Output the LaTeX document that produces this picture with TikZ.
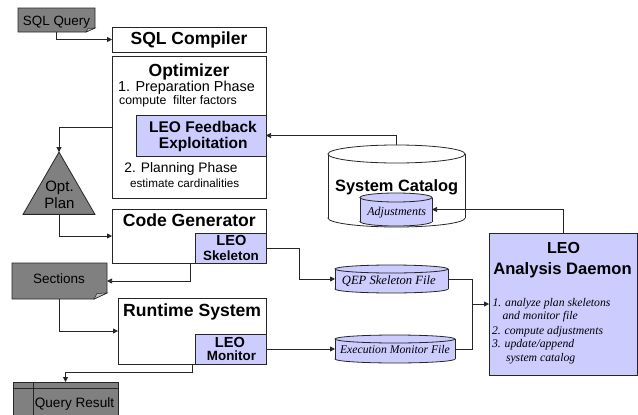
\documentclass[tikz,border=0pt]{standalone}
\usepackage{fontspec}
\setmainfont{Liberation Sans}
\newfontfamily\serifit{Liberation Serif}
\usetikzlibrary{arrows.meta,shapes.geometric}
\definecolor{leo}{RGB}{204,204,255}
\definecolor{dgray}{RGB}{128,128,128}
\definecolor{lgray}{RGB}{190,190,190}
\newcommand\fsz[1]{\fontsize{#1}{#1}\selectfont}
\newcommand\mycyl[6]{%
  \filldraw[cylb, fill=#6] (#1,#3-#5) ellipse [x radius=#4pt, y radius=#5pt];
  \fill[#6] (#1-#4,#2+#5) rectangle (#1+#4,#3-#5);
  \draw[cylb] (#1-#4,#2+#5) -- (#1-#4,#3-#5) (#1+#4,#2+#5) -- (#1+#4,#3-#5);
  \filldraw[cylb, fill=#6] (#1,#2+#5) ellipse [x radius=#4pt, y radius=#5pt];}
\begin{document}
\begin{tikzpicture}[x=1pt,y=-1pt,
  box/.style={draw=black!85, line width=0.9pt, fill=white, inner sep=0pt, outer sep=0pt},
  leobox/.style={box, fill=leo},
  anchorbox/.style={draw=none, inner sep=0pt, outer sep=0pt},
  cylb/.style={draw=black!85, line width=0.8pt},
  conn/.style={draw=black!85, line width=0.75pt},
  arr/.style={conn, -{Triangle[length=5pt,width=5pt]}},
  txt/.style={anchor=base, inner sep=0pt, outer sep=0pt},
  txtl/.style={anchor=base west, inner sep=0pt, outer sep=0pt, font=\serifit\itshape\fsz{11.7}}]
\useasboundingbox (0,0) rectangle (638,415);

% ---- SQL Query (folded document) ----
\filldraw[fill=dgray, draw=black!85, line width=0.8pt]
  (18,8) -- (95,8) -- (95,28) -- (86,32) -- (18,32) -- cycle;
\filldraw[fill=lgray, draw=black!85, line width=0.5pt] (86,32) -- (95,28) -- (88,28.5) -- cycle;
\node[anchorbox, minimum width=77pt, minimum height=24pt] (sqlq) at (56.5,20) {};
\node[txt, font=\fsz{13.4}] (tsqlq) at (56.5,26) {SQL Query};

% ---- SQL Compiler ----
\node[box, minimum width=154pt, minimum height=25pt] (sqlc) at (189,39.5) {};
\node[txt, font=\bfseries\fsz{17.5}] (tsqlc) at (189,45) {SQL Compiler};

% ---- Optimizer ----
\node[box, minimum width=154pt, minimum height=142pt] (opt) at (189,127) {};
\node[txt, font=\bfseries\fsz{17.5}] (topt) at (189,76) {Optimizer};
\node[txt, font=\fsz{14.4}] (tprep) at (186.5,91.6) {1. Preparation Phase};
\node[txt, font=\fsz{12.3}] (tcff) at (178,104.2) {compute\ \ filter factors};
\node[leobox, minimum width=130pt, minimum height=41pt] (feed) at (201,135.5) {};
\node[txt, font=\bfseries\fsz{15.5}] (tfeed1) at (203,132.7) {LEO Feedback};
\node[txt, font=\bfseries\fsz{15.5}] (tfeed2) at (203.3,148) {Exploitation};
\node[txt, font=\fsz{13.8}] (tplan) at (181,172) {2. Planning Phase};
\node[txt, font=\fsz{11.7}] (test) at (184.7,187) {estimate cardinalities};

% ---- Opt. Plan triangle ----
\node[regular polygon, regular polygon sides=3, minimum size=83pt, inner sep=0pt, outer sep=0pt,
  draw=black!85, line width=0.8pt, fill=dgray] (tri) at (59,193.6) {};
\node[txt, font=\fsz{15}] (ttri1) at (59.5,191) {Opt.};
\node[txt, font=\fsz{15}] (ttri2) at (59.5,208) {Plan};

% ---- Code Generator ----
\node[box, minimum width=154pt, minimum height=54pt] (codegen) at (189,236) {};
\node[txt, font=\bfseries\fsz{17.6}] (tcg) at (189.3,226.7) {Code Generator};
\node[leobox, minimum width=71pt, minimum height=30pt] (skel) at (230.5,248) {};
\node[txt, font=\bfseries\fsz{14.6}] (tsk1) at (231.5,245.7) {LEO};
\node[txt, font=\bfseries\fsz{13.4}] (tsk2) at (231,260) {Skeleton};

% ---- Sections (folded document) ----
\filldraw[fill=dgray, draw=black!85, line width=0.8pt]
  (12,263) -- (107,263) -- (107,293) -- (94,299) -- (12,299) -- cycle;
\filldraw[fill=lgray, draw=black!85, line width=0.5pt] (94,299) -- (107,293) -- (97,293.5) -- cycle;
\node[anchorbox, minimum width=95pt, minimum height=36pt] (sections) at (59.5,281) {};
\node[txt, font=\fsz{13.5}] (tsec) at (59,283.5) {Sections};

% ---- Runtime System ----
\node[box, minimum width=148pt, minimum height=66pt] (runtime) at (192,331) {};
\node[txt, font=\bfseries\fsz{17.6}] (trt) at (192.2,316) {Runtime System};
\node[leobox, minimum width=71pt, minimum height=30pt] (monitor) at (230.5,349) {};
\node[txt, font=\bfseries\fsz{14.6}] (tmo1) at (230,347.3) {LEO};
\node[txt, font=\bfseries\fsz{13.4}] (tmo2) at (231.5,360.7) {Monitor};

% ---- Query Result ----
\node[box, fill=dgray, minimum width=105pt, minimum height=38pt] (qres) at (65.5,401) {};
\draw[draw=black!85, line width=0.8pt] (13,388) -- (118,388) (33,382) -- (33,420);
\node[txt, font=\fsz{13.6}] (tqr) at (74.5,407) {Query Result};

% ---- System Catalog ----
\mycyl{396.5}{145}{227}{68.5}{9}{white}
\node[anchorbox, minimum width=137pt, minimum height=82pt] (cat) at (396.5,186) {};
\node[txt, font=\bfseries\fsz{16.4}] (tcat) at (396.7,191.7) {System Catalog};
\mycyl{396}{193}{226}{36}{4.5}{leo}
\node[anchorbox, minimum width=72pt, minimum height=33pt] (adj) at (396,209.5) {};
\node[txt, font=\serifit\itshape\fsz{12}] (tadj) at (396.7,215.7) {Adjustments};

% ---- files ----
\mycyl{391.5}{265}{293}{56.5}{4}{leo}
\node[anchorbox, minimum width=113pt, minimum height=28pt] (qep) at (391.5,279) {};
\node[txt, font=\serifit\itshape\fsz{12.6}] (tqep) at (388.8,284) {QEP Skeleton File};
\mycyl{395}{335}{363}{60}{4}{leo}
\node[anchorbox, minimum width=120pt, minimum height=28pt] (exec) at (395,349) {};
\node[txt, font=\serifit\itshape\fsz{11.7}] (texec) at (395,353.3) {Execution Monitor File};

% ---- LEO Analysis Daemon ----
\node[leobox, minimum width=148pt, minimum height=142pt] (daemon) at (563,304) {};
\node[txt, font=\bfseries\fsz{16}] (td1) at (563.5,253.3) {LEO};
\node[txt, font=\bfseries\fsz{16.6}] (td2) at (562.5,274.5) {Analysis Daemon};
\node[txtl] (tl1) at (492.5,306) {1. analyze plan skeletons};
\node[txtl] (tl2) at (502.5,319.5) {and monitor file};
\node[txtl] (tl3) at (492,334) {2. compute adjustments};
\node[txtl] (tl4) at (492,347.5) {3. update/append};
\node[txtl] (tl5) at (506,361.5) {system catalog};

% ---- connectors ----
\draw[arr] (sqlq.south) |- (sqlc.west);
\draw[arr] (opt.west) -| (tri.north);
\draw[arr] (tri.south) |- (codegen.west);
\draw[arr] (skel.east) -- ++(33,0) |- (qep.west);
\draw[arr] ([xshift=-76pt]codegen.south east) |- (sections.east);
\draw[arr] (sections.south) |- (runtime.west);
\draw[arr] (monitor.east) -- (exec.west);
\draw[arr] ([xshift=-3pt]monitor.south west) -- ++(0,8) -| (qres.north);
\draw[arr] (cat.north) |- (feed.east);
\draw[arr] (daemon.north) |- (adj.east);
\draw[arr] (qep.east) -- ++(24,0) |- (daemon.west);
\draw[conn] (exec.east) -| ([xshift=-17pt]daemon.west);
\end{tikzpicture}
\end{document}
